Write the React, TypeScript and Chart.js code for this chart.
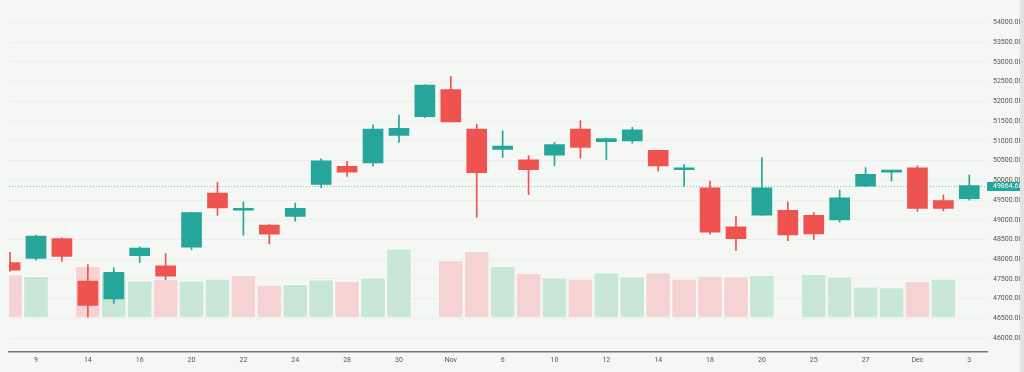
import React, { useEffect, useRef } from "react";
import { Chart, registerables } from "chart.js";

Chart.register(...registerables);

// ---- data ----
const xTickIndex = [1, 3, 5, 7, 9, 11, 13, 15, 17, 19, 21, 23, 25, 27, 29, 31, 33, 35, 37];
const xTickLabels = ["9", "14", "16", "20", "22", "24", "28", "30", "Nov", "6", "10", "12", "14", "18", "20", "25", "27", "Dec", "3"];

const opens = [47913, 48019, 48521, 47445, 46994, 48092, 47831, 48307, 49678, 49242, 48865, 49087, 49899, 50357, 50441, 51137, 51612, 52302, 51302, 50785, 50522, 50638, 51302, 50982, 50997, 50761, 50268, 49808, 48823, 49119, 49242, 49111, 48996, 49850, 50209, 50318, 49488, 49537];
const highs = [48176, 48609, 48540, 47863, 47782, 48314, 48142, 49190, 49948, 49456, 48880, 49422, 50547, 50480, 51408, 51654, 52420, 52639, 51425, 51253, 50628, 50965, 51514, 51070, 51342, 50770, 50399, 49980, 49087, 50579, 49456, 49185, 49751, 50325, 50260, 50367, 49628, 50135];
const lows = [47700, 47979, 47945, 46534, 46879, 47920, 47477, 48240, 49111, 48609, 48388, 48964, 49815, 50096, 50357, 50958, 51588, 51480, 49062, 50579, 49636, 50374, 50564, 50522, 50940, 50234, 49840, 48634, 48215, 49110, 48471, 48503, 48939, 49845, 49988, 49210, 49225, 49495];
const closes = [47723, 48585, 48068, 46830, 47666, 48282, 47568, 49185, 49299, 49291, 48634, 49291, 50497, 50209, 51302, 51317, 52417, 51482, 50195, 50867, 50268, 50908, 50834, 51056, 51278, 50367, 50318, 48683, 48521, 49808, 48619, 48644, 49554, 50153, 50244, 49291, 49291, 49864.68];

const volumes = [4370, 4200, 30, 5230, 4570, 3730, 3900, 3730, 3900, 4300, 3300, 3370, 3830, 3700, 4030, 7030, 30, 5830, 6770, 5230, 4500, 4030, 3900, 4570, 4170, 4570, 3900, 4230, 4170, 4300, 30, 4400, 4130, 3100, 3030, 3670, 3900, 30];
const volumeUp = [0, 1, 0, 0, 1, 1, 0, 1, 1, 0, 0, 1, 1, 0, 1, 1, 1, 0, 0, 1, 0, 1, 0, 1, 1, 0, 0, 0, 0, 1, 0, 1, 1, 1, 1, 0, 1, 1];

const priceTicks = [46000, 46500, 47000, 47500, 48000, 48500, 49000, 49500, 50000, 50500, 51000, 51500, 52000, 52500, 53000, 53500, 54000];
const lastPrice = 49864.68;

// ---- style ----
const UP = "#26a69a";
const DOWN = "#ef5350";
const VOL_UP = "#c9e7d6";
const VOL_DOWN = "#f6d3d3";
const BG = "#f5f7f5";
const GRID = "#eceeec";
const FONT = "Roboto";

const decor = {
  id: "decor",
  beforeDraw(chart: any) {
    const { ctx, width, height } = chart;
    ctx.save();
    ctx.fillStyle = BG;
    ctx.fillRect(0, 0, width, height);
    ctx.restore();
  },
  afterDatasetsDraw(chart: any) {
    const { ctx, chartArea, scales } = chart;
    const y = Math.round(scales.y.getPixelForValue(lastPrice)) + 0.5;
    ctx.save();
    ctx.strokeStyle = "rgba(38,166,154,0.6)";
    ctx.lineWidth = 1;
    ctx.setLineDash([1, 2]);
    ctx.beginPath();
    ctx.moveTo(chartArea.left, y);
    ctx.lineTo(chartArea.right, y);
    ctx.stroke();
    ctx.restore();
  },
  afterDraw(chart: any) {
    const { ctx, chartArea, scales, width, height } = chart;
    const y = scales.y.getPixelForValue(lastPrice);
    ctx.save();
    ctx.fillStyle = UP;
    ctx.fillRect(chartArea.right, Math.round(y) - 4, width - chartArea.right, 9);
    ctx.fillStyle = "#ffffff";
    ctx.font = `7px ${FONT}`;
    ctx.textBaseline = "middle";
    ctx.textAlign = "left";
    ctx.fillText(lastPrice.toFixed(2), chartArea.right + 6, Math.round(y) + 0.5);
    ctx.fillStyle = "#e2e4e2";
    ctx.fillRect(width - 4, 0, 4, height);
    ctx.restore();
  },
};

export default function App() {
  const ref = useRef<HTMLCanvasElement | null>(null);

  useEffect(() => {
    if (!ref.current) return;
    const idx = opens.map((_, i) => i);
    const candleColor = idx.map((i) => (closes[i] >= opens[i] ? UP : DOWN));

    const chart = new Chart(ref.current, {
      type: "bar",
      data: {
        datasets: [
          {
            label: "bodies",
            data: idx.map((i) => ({ x: i, y: [opens[i], closes[i]] })) as any,
            backgroundColor: candleColor,
            borderWidth: 0,
            barThickness: 20,
            minBarLength: 2,
            grouped: false,
            yAxisID: "y",
            order: 1,
          } as any,
          {
            label: "wicks",
            data: idx.map((i) => ({ x: i, y: [lows[i], highs[i]] })) as any,
            backgroundColor: candleColor,
            borderWidth: 0,
            barThickness: 1,
            grouped: false,
            yAxisID: "y",
            order: 2,
          } as any,
          {
            label: "volume",
            data: idx.map((i) => ({ x: i, y: volumes[i] })) as any,
            backgroundColor: idx.map((i) => (volumeUp[i] ? VOL_UP : VOL_DOWN)),
            borderColor: "rgba(255,255,255,0.45)",
            borderWidth: 1,
            barThickness: 25,
            grouped: false,
            yAxisID: "yv",
            order: 3,
          } as any,
        ],
      },
      options: {
        animation: false,
        responsive: false,
        maintainAspectRatio: false,
        layout: { padding: { left: 9, right: 0, top: 0, bottom: 0 } },
        plugins: { legend: { display: false }, tooltip: { enabled: false } },
        scales: {
          x: {
            type: "linear",
            min: -0.0417,
            max: 37.683,
            offset: false,
            bounds: "data",
            grid: { display: false, offset: false, drawTicks: false },
            border: { display: true, color: "#74748c", width: 1.5 },
            afterBuildTicks: (s: any) => {
              s.ticks = xTickIndex.map((v) => ({ value: v }));
            },
            afterFit: (s: any) => {
              s.height = 20;
            },
            ticks: {
              autoSkip: false,
              maxRotation: 0,
              padding: 4,
              color: "#555555",
              font: { family: FONT, size: 7 },
              callback: (_v: any, i: number) => xTickLabels[i],
            },
          } as any,
          y: {
            type: "linear",
            position: "right",
            min: 45648,
            max: 54313,
            bounds: "data",
            grid: { color: GRID, lineWidth: 1, drawTicks: false },
            border: { display: false },
            afterBuildTicks: (s: any) => {
              s.ticks = priceTicks.map((v) => ({ value: v }));
            },
            afterFit: (s: any) => {
              s.width = 37;
            },
            ticks: {
              padding: 6,
              color: "#555555",
              font: { family: FONT, size: 7 },
              callback: (v: any) => Number(v).toFixed(2),
            },
          } as any,
          yv: {
            type: "linear",
            display: false,
            min: -3600,
            max: 31600,
            grid: { display: false },
          } as any,
        },
      },
      plugins: [decor],
    });
    return () => chart.destroy();
  }, []);

  return (
    <div style={{ position: "absolute", left: 0, top: 0, width: 1024, height: 372 }}>
      <canvas ref={ref} width={1024} height={372} style={{ display: "block" }} />
    </div>
  );
}
